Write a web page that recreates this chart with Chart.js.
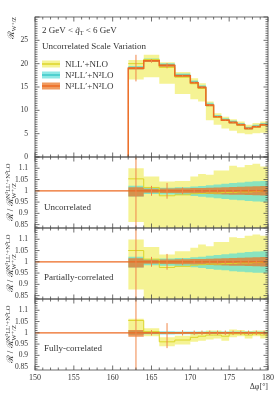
<!DOCTYPE html>
<html lang="en">
<head>
<meta charset="UTF-8">
<title>R W+/Z scale variation</title>
<script src="https://cdn.jsdelivr.net/npm/chart.js"></script>
<style>
  body { margin: 0; background: #fff; overflow: hidden; }
  #wrap { position: relative; width: 279px; height: 393px; }
  canvas { position: absolute; left: 0; }
</style>
</head>
<body>
<div id="wrap">
  <canvas id="cMain"></canvas>
  <canvas id="cUnc"></canvas>
  <canvas id="cPar"></canvas>
  <canvas id="cFul"></canvas>
</div>
<script>
// bins in delta phi (degrees)
const edges = [162, 164, 166, 168, 170, 171, 172, 173, 174, 175, 176, 177, 178, 179, 180];
const centers = [163, 165, 167, 169, 170.5, 171.5, 172.5, 173.5, 174.5, 175.5, 176.5, 177.5, 178.5, 179.5];
const xTicks = [150, 155, 160, 165, 170, 175, 180];
const mainTicks = [0, 5, 10, 15, 20, 25];
const ratioTicks = [0.85, 0.9, 0.95, 1, 1.05, 1.1];

// main panel, R_W+/Z
const nllMid = [20.0, 20.9, 19.2, 17.1, 15.7, 14.7, 11.0, 8.5, 7.85, 7.35, 6.85, 6.05, 6.45, 6.9];
const nllLo  = [16.6, 17.1, 15.7, 13.5, 12.4, 11.9, 7.9, 6.9, 6.1, 5.6, 5.1, 4.9, 5.1, 5.2];
const nllHi  = [20.8, 21.9, 20.3, 18.2, 16.9, 15.8, 11.9, 9.4, 8.6, 8.1, 7.6, 6.9, 7.3, 7.6];
const n2Mid  = [19.15, 20.75, 19.75, 17.55, 16.05, 15.05, 11.25, 8.7, 8.0, 7.5, 7.0, 6.2, 6.6, 7.0];
const n2Lo   = [18.8, 20.4, 19.4, 17.2, 15.7, 14.7, 10.9, 8.4, 7.7, 7.2, 6.7, 5.9, 6.3, 6.7];
const n2Hi   = [19.5, 21.1, 20.1, 17.9, 16.4, 15.4, 11.6, 9.0, 8.3, 7.8, 7.3, 6.5, 6.9, 7.3];
const n3Mid  = [19.0, 20.6, 19.6, 17.4, 15.9, 14.9, 11.1, 8.6, 7.9, 7.4, 6.9, 6.1, 6.5, 6.9];
const n3Lo   = [18.75, 20.35, 19.35, 17.15, 15.65, 14.65, 10.85, 8.4, 7.7, 7.2, 6.7, 5.9, 6.3, 6.7];
const n3Hi   = [19.3, 20.85, 19.85, 17.65, 16.15, 15.15, 11.35, 8.8, 8.1, 7.6, 7.1, 6.3, 6.7, 7.1];
const mainErrLo = [16.2, 20.2, 19.0, 17.2, 15.75, 14.75, 10.95, 8.5, 7.8, 7.3, 6.8, 6.0, 6.4, 6.8];
const mainErrHi = [21.9, 21.0, 20.1, 17.6, 16.05, 15.05, 11.25, 8.7, 8.0, 7.5, 7.0, 6.2, 6.6, 7.0];

// ratio panel: uncorrelated
const uNllMid = [1.053, 1.015, 0.978, 0.982, 0.987, 0.988, 0.99, 0.99, 0.993, 0.993, 0.995, 0.995, 0.997, 1.0];
const uNllLo  = [0.862, 0.8, 0.8, 0.8, 0.8, 0.8, 0.8, 0.8, 0.8, 0.8, 0.8, 0.8, 0.8, 0.8];
const uNllHi  = [1.10, 1.063, 1.041, 1.044, 1.063, 1.075, 1.071, 1.09, 1.09, 1.111, 1.105, 1.115, 1.12, 1.108];
const uN2Lo   = [0.975, 0.986, 0.984, 0.981, 0.977, 0.974, 0.97, 0.967, 0.964, 0.96, 0.958, 0.955, 0.953, 0.952];
const uN2Hi   = [1.023, 1.013, 1.014, 1.016, 1.019, 1.021, 1.025, 1.028, 1.031, 1.035, 1.037, 1.04, 1.042, 1.043];
const uN3Lo   = [0.975, 0.991, 0.99, 0.989, 0.988, 0.987, 0.986, 0.985, 0.984, 0.983, 0.982, 0.981, 0.98, 0.979];
const uN3Hi   = [1.016, 1.009, 1.01, 1.011, 1.012, 1.013, 1.014, 1.015, 1.016, 1.017, 1.018, 1.019, 1.02, 1.021];
const uErrLo  = [0.5, 0.978, 0.965, 0.985, 0.99, 0.99, 0.99, 0.99, 0.99, 0.99, 0.99, 0.99, 0.99, 0.99];
const uErrHi  = [1.5, 1.022, 1.035, 1.015, 1.01, 1.01, 1.01, 1.01, 1.01, 1.01, 1.01, 1.01, 1.01, 1.01];

// ratio panel: partially-correlated
const pNllMid = [1.05, 1.012, 0.975, 0.98, 0.985, 0.987, 0.99, 0.99, 0.992, 0.993, 0.995, 0.995, 0.997, 0.998];
const pNllLo  = [0.877, 0.8, 0.8, 0.8, 0.8, 0.8, 0.8, 0.8, 0.8, 0.8, 0.8, 0.8, 0.8, 0.8];
const pNllHi  = [1.099, 1.066, 1.032, 1.047, 1.062, 1.077, 1.069, 1.088, 1.088, 1.109, 1.106, 1.116, 1.121, 1.116];
const pN2Lo   = [0.975, 0.985, 0.983, 0.98, 0.976, 0.972, 0.968, 0.965, 0.962, 0.958, 0.956, 0.954, 0.952, 0.951];
const pN2Hi   = [1.023, 1.013, 1.015, 1.017, 1.02, 1.023, 1.027, 1.03, 1.033, 1.037, 1.04, 1.043, 1.046, 1.047];
const pN3Lo   = [0.975, 0.991, 0.99, 0.989, 0.988, 0.987, 0.986, 0.985, 0.984, 0.983, 0.982, 0.981, 0.98, 0.979];
const pN3Hi   = [1.016, 1.009, 1.01, 1.011, 1.012, 1.013, 1.014, 1.015, 1.016, 1.017, 1.018, 1.019, 1.02, 1.021];
const pErrLo  = [0.5, 0.978, 0.965, 0.985, 0.99, 0.99, 0.99, 0.99, 0.99, 0.99, 0.99, 0.99, 0.99, 0.99];
const pErrHi  = [1.5, 1.022, 1.035, 1.015, 1.01, 1.01, 1.01, 1.01, 1.01, 1.01, 1.01, 1.01, 1.01, 1.01];

// ratio panel: fully-correlated
const fNllMid = [1.055, 1.005, 0.96, 0.968, 0.98, 0.985, 0.99, 0.99, 0.985, 0.995, 0.995, 0.99, 0.995, 0.99];
const fNllLo  = [1.0, 0.985, 0.94, 0.948, 0.96, 0.965, 0.97, 0.975, 0.965, 0.98, 0.985, 0.975, 0.985, 0.975];
const fNllHi  = [1.062, 1.02, 0.98, 0.987, 1.0, 1.005, 1.01, 1.01, 1.005, 1.015, 1.012, 1.008, 1.01, 1.01];
const fN2Lo   = [0.99, 0.994, 0.993, 0.994, 0.994, 0.995, 0.995, 0.995, 0.995, 0.995, 0.995, 0.995, 0.995, 0.995];
const fN2Hi   = [1.01, 1.006, 1.007, 1.006, 1.006, 1.006, 1.006, 1.006, 1.006, 1.006, 1.006, 1.006, 1.006, 1.006];
const fN3Lo   = [0.982, 0.996, 0.996, 0.996, 0.996, 0.996, 0.996, 0.996, 0.996, 0.996, 0.996, 0.996, 0.996, 0.996];
const fN3Hi   = [1.012, 1.004, 1.004, 1.004, 1.004, 1.004, 1.004, 1.004, 1.004, 1.004, 1.004, 1.004, 1.004, 1.004];
const fErrLo  = [0.5, 0.988, 0.932, 0.988, 0.99, 0.99, 0.99, 0.99, 0.99, 0.99, 0.99, 0.99, 0.99, 0.99];
const fErrHi  = [1.5, 1.012, 1.043, 1.012, 1.01, 1.01, 1.01, 1.01, 1.01, 1.01, 1.01, 1.01, 1.01, 1.01];

const SERIF = "'Liberation Serif', 'DejaVu Serif', serif";
const C = {
  yellowBand: 'rgba(236,233,60,0.55)',
  yellowLine: '#dcd52a',
  cyanBand: 'rgba(80,220,215,0.65)',
  cyanLine: '#3cc8c8',
  orangeBand: 'rgba(235,120,40,0.75)',
  orangeLine: '#ec6a22',
  err: '#f0874a',
  text: '#333'
};

function stepPts(vals) {
  return edges.map((e, i) => ({ x: e, y: vals[Math.min(i, vals.length - 1)] }));
}
function bandSets(lo, hi, color, order) {
  return [
    { data: stepPts(hi), stepped: true, borderWidth: 0, borderColor: 'transparent', pointRadius: 0, fill: false, order },
    { data: stepPts(lo), stepped: true, borderWidth: 0, borderColor: 'transparent', pointRadius: 0, fill: '-1', backgroundColor: color, order }
  ];
}
function lineSet(pts, color, width, order) {
  return { data: pts, stepped: true, borderColor: color, borderWidth: width, pointRadius: 0, fill: false, order };
}
function errSet(lo, hi) {
  const pts = [];
  centers.forEach((c, i) => pts.push({ x: c, y: lo[i] }, { x: c, y: hi[i] }, { x: c, y: null }));
  return { data: pts, borderColor: C.err, borderWidth: 1, pointRadius: 0, fill: false, spanGaps: false, order: 0 };
}

// rich text: parts {t, s, dy, it, hold}; a 'hold' part shares its x slot with the next one
function rich(ctx, parts, x, y, align) {
  const fontOf = p => (p.it ? 'italic ' : '') + p.s + 'px ' + SERIF;
  const widths = parts.map(p => { ctx.font = fontOf(p); return ctx.measureText(p.t).width; });
  let total = 0, held = 0;
  parts.forEach((p, i) => { if (p.hold) held = widths[i]; else { total += Math.max(widths[i], held); held = 0; } });
  let cx = align === 'right' ? x - total : align === 'center' ? x - total / 2 : x;
  held = 0;
  ctx.textAlign = 'left';
  parts.forEach((p, i) => {
    ctx.font = fontOf(p);
    ctx.fillText(p.t, cx, y + (p.dy || 0));
    if (p.hold) held = widths[i]; else { cx += Math.max(widths[i], held); held = 0; }
  });
}

function framePlugin(yStep, yMajor) {
  return {
    id: 'frame',
    afterDatasetsDraw(chart) {
      const { ctx, chartArea: a, scales: { x, y } } = chart;
      ctx.save();
      ctx.strokeStyle = '#4a4a4a';
      ctx.lineWidth = 0.8;
      ctx.strokeRect(a.left, a.top, a.width, a.height);
      ctx.beginPath();
      for (let v = 150; v <= 180; v++) {
        const px = x.getPixelForValue(v), len = v % 5 === 0 ? 4.5 : 2.5;
        ctx.moveTo(px, a.top); ctx.lineTo(px, a.top + len);
        ctx.moveTo(px, a.bottom); ctx.lineTo(px, a.bottom - len);
      }
      const k0 = Math.ceil(y.min / yStep - 1e-6), k1 = Math.floor(y.max / yStep + 1e-6);
      for (let k = k0; k <= k1; k++) {
        const py = y.getPixelForValue(k * yStep), len = k % yMajor === 0 ? 4.5 : 2.5;
        ctx.moveTo(a.left, py); ctx.lineTo(a.left + len, py);
        ctx.moveTo(a.right, py); ctx.lineTo(a.right - len, py);
      }
      ctx.stroke();
      ctx.restore();
    }
  };
}

function makePanel(id, top, bottom, datasets, y, extra, isLast) {
  const cv = document.getElementById(id);
  const padTop = 12, padBot = isLast ? 2 : 12, xH = isLast ? 22 : 0;
  cv.width = 279;
  cv.height = padTop + (bottom - top) + xH + padBot;
  cv.style.top = (top - padTop) + 'px';
  return new Chart(cv, {
    type: 'line',
    data: { datasets },
    options: {
      responsive: false,
      animation: false,
      events: [],
      layout: { padding: { top: padTop, bottom: padBot, left: 0, right: 11 } },
      plugins: { legend: { display: false }, tooltip: { enabled: false } },
      scales: {
        x: {
          type: 'linear', min: 150, max: 180, display: isLast,
          grid: { display: false, drawTicks: false }, border: { display: false },
          afterBuildTicks: s => { s.ticks = xTicks.map(v => ({ value: v })); },
          afterFit: s => { s.height = xH; s.paddingLeft = 0; s.paddingRight = 0; },
          ticks: { font: { family: SERIF, size: 8 }, color: C.text, padding: 3, maxRotation: 0, autoSkip: false },
          title: { display: isLast, text: 'Δφ[°]', align: 'end', padding: 0, font: { family: SERIF, size: 8 }, color: C.text }
        },
        y: {
          type: 'linear', min: y.min, max: y.max,
          grid: { display: false, drawTicks: false }, border: { display: false },
          afterBuildTicks: s => { s.ticks = y.ticks.map(v => ({ value: v })); },
          afterFit: s => { s.width = 35; s.paddingTop = 0; s.paddingBottom = 0; },
          ticks: { font: { family: SERIF, size: 7.5 }, color: C.text, padding: 7, autoSkip: false, callback: v => String(v) }
        }
      }
    },
    plugins: [framePlugin(y.step, y.major), extra]
  });
}

function ratioSets(nMid, nLo, nHi, cLo, cHi, oLo, oHi, eLo, eHi) {
  return [
    errSet(eLo, eHi),
    { data: [{ x: 150, y: 1 }, { x: 180, y: 1 }], borderColor: C.orangeLine, borderWidth: 1.2, pointRadius: 0, fill: false, order: 1 },
    lineSet(stepPts(nMid), C.yellowLine, 1, 2),
    ...bandSets(oLo, oHi, C.orangeBand, 3),
    ...bandSets(cLo, cHi, C.cyanBand, 4),
    ...bandSets(nLo, nHi, C.yellowBand, 5)
  ];
}

function ratioText(label, top, bottom) {
  return {
    id: 'text',
    afterDatasetsDraw(chart) {
      const ctx = chart.ctx;
      const off = top - 12;
      ctx.save();
      ctx.fillStyle = C.text;
      ctx.textBaseline = 'middle';
      ctx.font = '9px ' + SERIF;
      ctx.fillText(label, 44, label === 'Uncorrelated' ? 208 - off : (label.startsWith('Part') ? 278 - off : 349 - off));
      ctx.textBaseline = 'alphabetic';
      ctx.translate(13, (top + bottom) / 2 - off);
      ctx.rotate(-Math.PI / 2);
      rich(ctx, [
        { t: 'ℛ / ℛ', s: 9 },
        { t: 'N³LL′+N²LO', s: 6.5, dy: -3.5, hold: true },
        { t: 'W⁺/Z', s: 6.5, dy: 2.5 }
      ], 0, 0, 'center');
      ctx.restore();
    }
  };
}

const mainText = {
  id: 'text',
  afterDatasetsDraw(chart) {
    const ctx = chart.ctx;
    const off = 17 - 12;
    ctx.save();
    ctx.fillStyle = C.text;
    ctx.textBaseline = 'alphabetic';
    rich(ctx, [
      { t: '2 GeV < ', s: 9 },
      { t: 'q̃', s: 9, it: true },
      { t: 'T', s: 6, dy: 2 },
      { t: ' < 6 GeV', s: 9 }
    ], 42, 33 - off, 'left');
    ctx.font = '9px ' + SERIF;
    ctx.fillText('Uncorrelated Scale Variation', 42, 49 - off);
    // legend
    const rows = [
      { y: 64, band: C.yellowBand, line: C.yellowLine, parts: [{ t: 'NLL′+NLO', s: 9 }] },
      { y: 75, band: C.cyanBand, line: C.cyanLine, parts: [{ t: 'N²LL′+N²LO', s: 9 }] },
      { y: 86, band: C.orangeBand, line: C.orangeLine, parts: [{ t: 'N³LL′+N²LO', s: 9 }] }
    ];
    rows.forEach(r => {
      const yy = r.y - off;
      ctx.fillStyle = r.band;
      ctx.fillRect(42, yy - 3.5, 18, 7);
      ctx.strokeStyle = r.line;
      ctx.lineWidth = 1.5;
      ctx.beginPath(); ctx.moveTo(42, yy); ctx.lineTo(60, yy); ctx.stroke();
      ctx.fillStyle = C.text;
      rich(ctx, r.parts, 65, yy + 3, 'left');
    });
    // y title
    ctx.translate(14, 17 - off);
    ctx.rotate(-Math.PI / 2);
    rich(ctx, [{ t: 'ℛ', s: 9 }, { t: 'W⁺/Z', s: 6, dy: 2 }], 0, 0, 'right');
    ctx.restore();
  }
};

makePanel('cMain', 17, 157, [
  errSet(mainErrLo, mainErrHi),
  lineSet([{ x: 162, y: 0 }, ...stepPts(n3Mid)], C.orangeLine, 1.5, 1),
  lineSet(stepPts(nllMid), C.yellowLine, 1, 2),
  ...bandSets(n3Lo, n3Hi, C.orangeBand, 3),
  lineSet(stepPts(n2Mid), C.cyanLine, 0.8, 3),
  ...bandSets(n2Lo, n2Hi, C.cyanBand, 4),
  ...bandSets(nllLo, nllHi, C.yellowBand, 5)
], { min: 0, max: 30, ticks: mainTicks, step: 0.5, major: 10 }, mainText, false);

const rY = { min: 0.835, max: 1.15, ticks: ratioTicks, step: 0.01, major: 5 };
makePanel('cUnc', 157, 228, ratioSets(uNllMid, uNllLo, uNllHi, uN2Lo, uN2Hi, uN3Lo, uN3Hi, uErrLo, uErrHi),
  rY, ratioText('Uncorrelated', 157, 228), false);
makePanel('cPar', 228, 299, ratioSets(pNllMid, pNllLo, pNllHi, pN2Lo, pN2Hi, pN3Lo, pN3Hi, pErrLo, pErrHi),
  rY, ratioText('Partially-correlated', 228, 299), false);
makePanel('cFul', 299, 370, ratioSets(fNllMid, fNllLo, fNllHi, fN2Lo, fN2Hi, fN3Lo, fN3Hi, fErrLo, fErrHi),
  rY, ratioText('Fully-correlated', 299, 370), true);
</script>
</body>
</html>
